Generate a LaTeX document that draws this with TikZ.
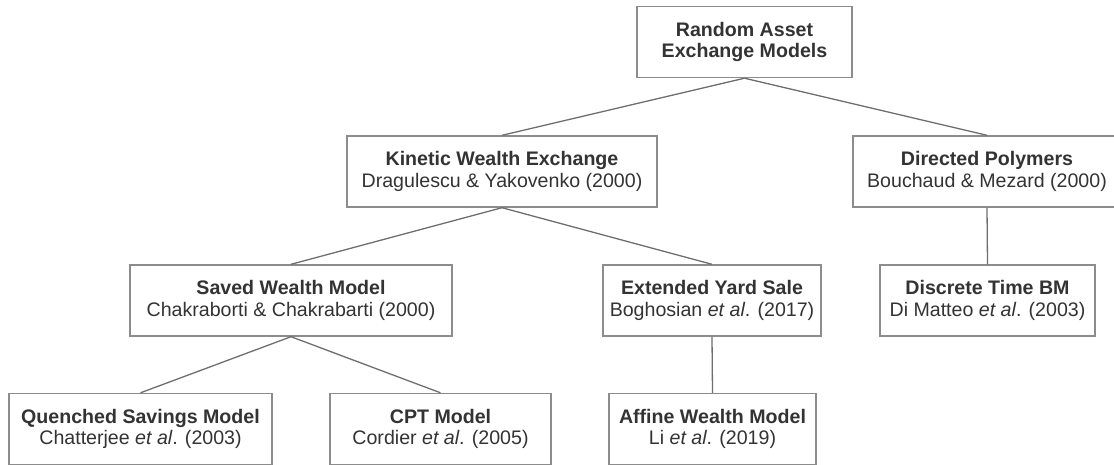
\documentclass[tikz,border=0pt]{standalone}
\usepackage{fontspec}
\setmainfont{Liberation Sans}
\usepackage{xcolor}
\usetikzlibrary{positioning}
\definecolor{boxgray}{HTML}{8C8C8C}
\definecolor{linegray}{HTML}{6E6E6E}
\definecolor{textgray}{HTML}{333333}

\begin{document}
\begin{tikzpicture}[x=1pt, y=-1pt,
    model/.style={draw=boxgray, line width=1.4pt, fill=white, text=textgray,
        align=center, inner sep=0pt, minimum height=71pt,
        font=\fontsize{19.6}{21.6}\selectfont},
    link/.style={draw=linegray, line width=1.3pt}]
    \clip (0,0) rectangle (1114,464);

    \node[model, minimum width=215pt] (root) at (744.5,42) {\textbf{Random Asset}\\\textbf{Exchange Models}};

    \node[model, minimum width=310pt] (kinetic) at (502,171.5) {\textbf{Kinetic Wealth Exchange}\\Dragulescu \& Yakovenko (2000)};
    \node[model, minimum width=268pt] (polymers) at (987,171.5) {\textbf{Directed Polymers}\\Bouchaud \& Mezard (2000)};

    \node[model, minimum width=322pt] (saved) at (291,300.5) {\textbf{Saved Wealth Model}\\Chakraborti \& Chakrabarti (2000)};
    \node[model, minimum width=218pt] (yard) at (712,300.5) {\textbf{Extended Yard Sale}\\Boghosian \textit{et al}. (2017)};
    \node[model, minimum width=215pt] (discrete) at (987.5,300.5) {\textbf{Discrete Time BM}\\Di Matteo \textit{et al}. (2003)};

    \node[model, minimum width=263pt] (quenched) at (140.5,429) {\textbf{Quenched Savings Model}\\Chatterjee \textit{et al}. (2003)};
    \node[model, minimum width=221pt] (cpt) at (440.5,429) {\textbf{CPT Model}\\Cordier \textit{et al}. (2005)};
    \node[model, minimum width=207pt] (affine) at (712.5,429) {\textbf{Affine Wealth Model}\\Li \textit{et al}. (2019)};

    \draw[link] (root.south) -- (kinetic.north);
    \draw[link] (root.south) -- (polymers.north);
    \draw[link] (kinetic.south) -- (saved.north);
    \draw[link] (kinetic.south) -- (yard.north);
    \draw[link] (polymers.south) -- (discrete.north);
    \draw[link] (saved.south) -- (quenched.north);
    \draw[link] (saved.south) -- (cpt.north);
    \draw[link] (yard.south) -- (affine.north);
\end{tikzpicture}
\end{document}
